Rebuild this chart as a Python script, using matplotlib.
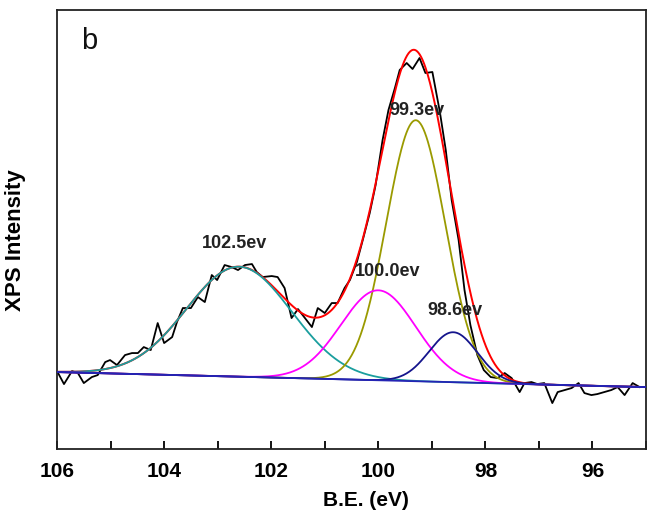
import numpy as np
import matplotlib
matplotlib.use("Agg")
import matplotlib.pyplot as plt
from matplotlib.ticker import MultipleLocator

plt.rcParams['font.family'] = ['Liberation Sans', 'DejaVu Sans']

# measured spectrum (B.E. in eV, intensity in a.u.)
energy = [105.99, 105.87, 105.72, 105.61, 105.50, 105.35, 105.24, 105.10, 105.01, 104.88,
          104.73, 104.60, 104.49, 104.38, 104.25, 104.12, 104.00, 103.85, 103.76, 103.65,
          103.50, 103.37, 103.24, 103.11, 103.01, 102.87, 102.74, 102.62, 102.49, 102.36,
          102.27, 102.16, 101.99, 101.88, 101.75, 101.62, 101.50, 101.37, 101.24, 101.13,
          101.00, 100.87, 100.76, 100.63, 100.53, 100.40, 100.29, 100.16, 100.05, 99.92,
          99.81, 99.69, 99.60, 99.47, 99.36, 99.23, 99.12, 98.99, 98.85, 98.74,
          98.63, 98.50, 98.39, 98.28, 98.15, 98.03, 97.90, 97.77, 97.64, 97.51,
          97.36, 97.27, 97.14, 97.03, 96.90, 96.75, 96.65, 96.52, 96.39, 96.26,
          96.15, 96.02, 95.91, 95.78, 95.65, 95.53, 95.40, 95.25, 95.12]
intensity = [77, 65, 78, 76, 66, 72, 74, 87, 89, 84,
             94, 96, 96, 102, 99, 126, 106, 112, 127, 141,
             141, 152, 147, 174, 169, 184, 182, 179, 184, 185,
             177, 172, 173, 172, 161, 131, 140, 131, 122, 141,
             136, 146, 146, 161, 169, 187, 209, 236, 264, 309,
             339, 361, 379, 386, 380, 391, 376, 377, 337, 299,
             249, 209, 159, 124, 94, 79, 72, 71, 76, 71,
             57, 66, 67, 65, 66, 46, 57, 59, 61, 66,
             56, 54, 55, 57, 59, 62, 54, 66, 62]

# fitted components
peak_labels = ['102.5ev', '99.3ev', '100.0ev', '98.6ev']
peak_center = [102.6, 99.3, 100.0, 98.6]
peak_height = [110, 261, 90, 50]
peak_sigma = [0.98, 0.55, 0.70, 0.45]
peak_color = ['#1a9e9e', '#9a9a00', '#ff00ff', '#14148c']
label_x = [102.68, 99.28, 99.82, 98.57]
label_y = [206, 339, 178, 139]

# linear background end points
bg_x = [106.0, 95.1]
bg_y = [77, 62]

fig = plt.figure(figsize=(6.54, 5.15), dpi=100)
ax = fig.add_axes([0.0872, 0.128, 0.9006, 0.8526])

xs = np.linspace(106, 95, 800)
bg = np.interp(xs, bg_x[::-1], bg_y[::-1])

ax.plot(energy, intensity, color='black', lw=1.3, zorder=2)

# envelope sits under the components
total = bg + sum(h * np.exp(-(xs - c) ** 2 / (2 * s ** 2))
                 for c, h, s in zip(peak_center, peak_height, peak_sigma))
ax.plot(xs, total, color='#ff0000', lw=1.4, zorder=3)

for c, h, s, col in zip(peak_center, peak_height, peak_sigma, peak_color):
    g = h * np.exp(-(xs - c) ** 2 / (2 * s ** 2))
    ax.plot(xs, bg + g, color=col, lw=1.3, zorder=4)

ax.plot(xs, bg, color='#2424b4', lw=1.3, zorder=5)

for t, lx, ly in zip(peak_labels, label_x, label_y):
    ax.text(lx, ly, t, ha='center', va='center', fontsize=13,
            fontweight='bold', color='#222222', zorder=6)

ax.text(0.055, 0.93, 'b', transform=ax.transAxes, fontsize=21,
        ha='center', va='center', color='#111111')

ax.set_xlim(106, 95)
ax.set_ylim(0, 439)
ax.xaxis.set_major_locator(MultipleLocator(2))
ax.xaxis.set_minor_locator(MultipleLocator(1))
ax.tick_params(axis='x', which='both', direction='in', length=6, width=1.3,
               labelsize=15, pad=9, top=False)
ax.set_yticks([])
for lab in ax.get_xticklabels():
    lab.set_fontweight('bold')
for sp in ax.spines.values():
    sp.set_linewidth(1.3)
    sp.set_color('#222222')

ax.set_xlabel('B.E. (eV)', fontsize=15, fontweight='bold', labelpad=6)
ax.xaxis.set_label_coords(0.525, -0.095)
ax.set_ylabel('XPS Intensity', fontsize=16, fontweight='bold')
ax.yaxis.set_label_coords(-0.052, 0.477)

fig.savefig('out.png', dpi=100)
